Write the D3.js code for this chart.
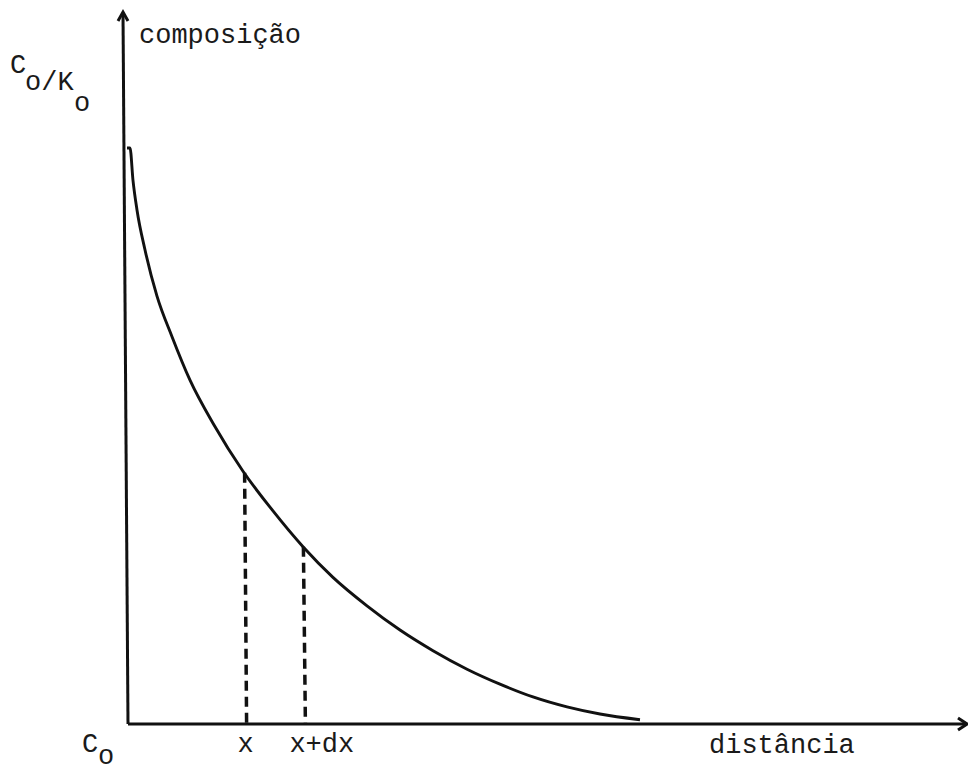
<!DOCTYPE html>
<html>
<head>
<meta charset="utf-8">
<script src="https://cdn.jsdelivr.net/npm/d3@7"></script>
<style>
  html, body { margin: 0; padding: 0; background: #fff; }
  .diagram text { font-family: "Liberation Mono", "DejaVu Sans Mono", monospace; font-size: 27px; fill: #1a1a1a; }
  .diagram__axis { stroke: #111; stroke-width: 3; fill: none; }
  .diagram__curve { stroke: #111; stroke-width: 2.9; fill: none; }
  .diagram__guide { stroke: #111; stroke-width: 3.5; stroke-dasharray: 10 6; fill: none; }
</style>
</head>
<body>
<div class="diagram"></div>
<script>
// Distance (arbitrary units) along the sample
const distance = [0, 0.36, 0.71, 1.19, 2.14, 3.57, 5.36, 7.5, 10.36, 13.81, 17.26, 20.95,
  24.52, 28.57, 32.5, 36.43, 40.48, 44.4, 48.33, 52.38, 56.31, 61.07];

// Composition (arbitrary units) at each distance
const composition = [80.9, 80.9, 76.4, 72.2, 66.6, 60.1, 54.4, 48.3, 42.0, 35.5, 30.1, 24.9,
  20.6, 16.6, 13.2, 10.3, 7.7, 5.6, 3.8, 2.4, 1.4, 0.6];

// Marked positions x and x+dx with the composition there
const markLabels = ["x", "x+dx"];
const markDistance = [14.0, 21.0];
const markComposition = [35.3, 24.9];

/**
 * Composition profile diagram
 */
class Profile
{
  constructor()
  {
    this._width = 968;
    this._height = 773;
    this._x = d3.scaleLinear().domain([0, 100]).range([127, 967]);
    this._y = d3.scaleLinear().domain([0, 100]).range([724, 12]);
    this._svg = null;
  }

  /**
   * Draw both axes with their arrow heads
   * @private
   */
  _renderAxes()
  {
    const x = this._x, y = this._y;

    // Vertical axis, slightly leaning like the scan
    this._svg.append("path")
      .attr("class", "diagram__axis")
      .attr("d", `M${x(0) + 1},${y(0)} L${x(0) - 4},${y(100) + 1}`);
    this._svg.append("path")
      .attr("class", "diagram__axis")
      .attr("stroke-width", 2.5)
      .attr("d", `M${x(0) - 9},${y(100) + 9} L${x(0) - 4},${y(100)} L${x(0) + 1},${y(100) + 9}`);

    // Horizontal axis
    this._svg.append("path")
      .attr("class", "diagram__axis")
      .attr("d", `M${x(0) + 1},${y(0)} L${x(100)},${y(0)}`);
    this._svg.append("path")
      .attr("class", "diagram__axis")
      .attr("stroke-width", 2.5)
      .attr("d", `M${x(100) - 9},${y(0) - 6} L${x(100)},${y(0)} L${x(100) - 9},${y(0) + 6}`);
  }

  /**
   * Draw the decaying composition curve and the dashed guides
   * @private
   */
  _renderCurve()
  {
    const x = this._x, y = this._y;
    const points = distance.map((d, i) => [d, composition[i]]);

    const line = d3.line()
      .x(d => x(d[0]))
      .y(d => y(d[1]))
      .curve(d3.curveMonotoneX);

    this._svg.append("path")
      .attr("class", "diagram__curve")
      .attr("d", line(points));

    // Dashed guides from the curve down to the axis
    this._svg.selectAll(".diagram__guide")
      .data(markDistance)
      .enter()
      .append("line")
      .attr("class", "diagram__guide")
      .attr("x1", d => x(d))
      .attr("x2", d => x(d) + 2)
      .attr("y1", (d, i) => y(markComposition[i]))
      .attr("y2", y(0));
  }

  /**
   * Axis names and labels
   * @private
   */
  _renderLabels()
  {
    const x = this._x;

    this._svg.append("text").attr("x", 139).attr("y", 43).text("composição");
    this._svg.append("text").attr("x", 709).attr("y", 753).text("distância");

    // C_o / K_o at the top of the vertical axis
    const top = this._svg.append("g");
    top.append("text").attr("x", 10).attr("y", 73).text("C");
    top.append("text").attr("x", 25).attr("y", 90).text("o/K");
    top.append("text").attr("x", 74).attr("y", 111).text("o");

    // C_o at the origin
    this._svg.append("text").attr("x", 82).attr("y", 752).text("C");
    this._svg.append("text").attr("x", 98).attr("y", 764).text("o");

    // x and x+dx under the guides
    this._svg.selectAll(".diagram__mark")
      .data(markLabels)
      .enter()
      .append("text")
      .attr("class", "diagram__mark")
      .attr("x", (d, i) => i === 0 ? x(markDistance[i]) + 1 : x(markDistance[i]) - 14)
      .attr("y", 752)
      .attr("text-anchor", (d, i) => i === 0 ? "middle" : "start")
      .text(d => d);
  }

  render()
  {
    this._svg = d3.select(".diagram")
      .append("svg")
      .attr("width", this._width)
      .attr("height", this._height);

    this._renderAxes();
    this._renderCurve();
    this._renderLabels();
  }
}

new Profile().render();
</script>
</body>
</html>
